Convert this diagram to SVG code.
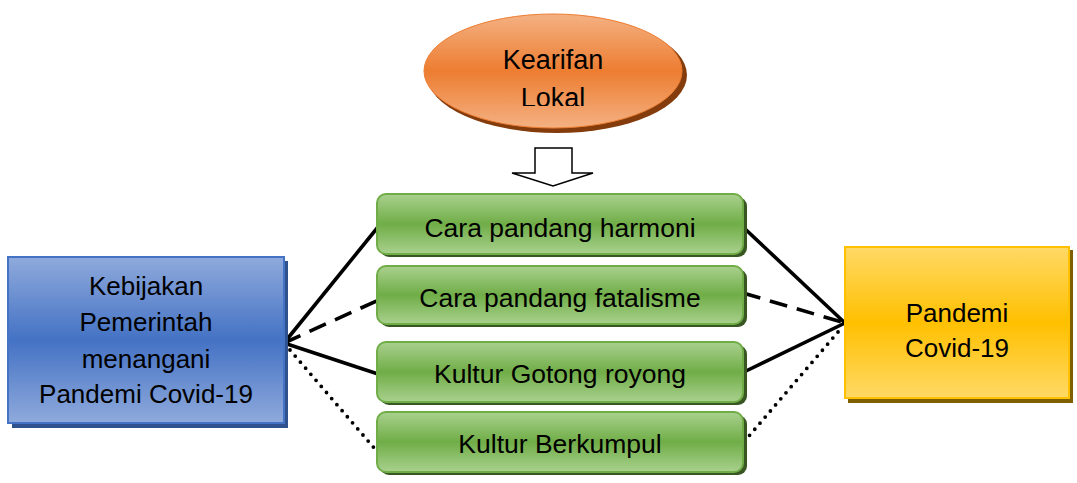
<svg xmlns="http://www.w3.org/2000/svg" width="1077" height="483" viewBox="0 0 1077 483">
<defs>
<linearGradient id="gGreen" x1="0" y1="0" x2="0" y2="1">
<stop offset="0" stop-color="#a9d18e"/><stop offset="0.5" stop-color="#70ad47"/><stop offset="1" stop-color="#a9d18e"/>
</linearGradient>
<linearGradient id="gBlue" x1="0" y1="0" x2="0" y2="1">
<stop offset="0" stop-color="#8faadc"/><stop offset="0.5" stop-color="#4472c4"/><stop offset="1" stop-color="#8faadc"/>
</linearGradient>
<linearGradient id="gGold" x1="0" y1="0" x2="0" y2="1">
<stop offset="0" stop-color="#ffd966"/><stop offset="0.5" stop-color="#ffc000"/><stop offset="1" stop-color="#ffd966"/>
</linearGradient>
<linearGradient id="gOrange" x1="0" y1="0" x2="0" y2="1">
<stop offset="0" stop-color="#f4b183"/><stop offset="0.5" stop-color="#ed7d31"/><stop offset="1" stop-color="#f4b183"/>
</linearGradient>
<clipPath id="ellClip"><rect x="420" y="0" width="270" height="106"/></clipPath>
<style>
text{font-family:"Liberation Sans",Arial,sans-serif;fill:#000;text-anchor:middle}
.g{fill:url(#gGreen);stroke:#70ad47;stroke-width:2}
.gs{fill:#385723}
.c{stroke:#000;stroke-width:3.6;fill:none}
.dash{stroke-dasharray:18 10}
.dot{stroke-dasharray:0 8;stroke-linecap:round;stroke-width:3.8}
</style>
</defs>
<g id="connectors">
<line class="c" x1="284" y1="343" x2="378" y2="227"/>
<line class="c dash" x1="284" y1="343" x2="383" y2="298"/>
<line class="c" x1="284" y1="343" x2="378" y2="374"/>
<line class="c dot" x1="290" y1="350" x2="375" y2="449"/>
<line class="c" x1="743" y1="227" x2="845" y2="323"/>
<line class="c dash" x1="743" y1="293" x2="845" y2="323"/>
<line class="c" x1="744" y1="372" x2="845" y2="323"/>
<line class="c dot" x1="838" y1="332" x2="743" y2="443"/>
</g>
<g id="kearifan">
<ellipse cx="557" cy="75" rx="130" ry="58" fill="#843c0c"/>
<ellipse cx="553" cy="71" rx="129" ry="57" fill="url(#gOrange)" stroke="#ed7d31" stroke-width="1"/>
<g clip-path="url(#ellClip)">
<text x="553" y="69" font-size="27">Kearifan</text>
<text x="553" y="107" font-size="27">Lokal</text>
</g>
</g>
<g id="arrow">
<path d="M535,148 H572 V173 H593 L553,186 L512,173 H535 Z" fill="#fff" stroke="#000" stroke-width="1.5" stroke-linejoin="miter"/>
</g>
<g id="harmoni">
<rect class="gs" x="380" y="197" width="367" height="60" rx="9"/>
<rect class="g" x="377" y="194" width="366" height="60" rx="9"/>
<text x="560" y="237" font-size="26.5">Cara pandang harmoni</text>
</g>
<g id="fatalisme">
<rect class="gs" x="380" y="269" width="367" height="58" rx="9"/>
<rect class="g" x="377" y="266" width="366" height="58" rx="9"/>
<text x="560" y="307" font-size="26.5">Cara pandang fatalisme</text>
</g>
<g id="gotong">
<rect class="gs" x="380" y="345" width="367" height="60" rx="9"/>
<rect class="g" x="377" y="342" width="366" height="60" rx="9"/>
<text x="560" y="383" font-size="26.5">Kultur Gotong royong</text>
</g>
<g id="berkumpul">
<rect class="gs" x="380" y="415" width="367" height="60" rx="9"/>
<rect class="g" x="377" y="412" width="366" height="60" rx="9"/>
<text x="560" y="453" font-size="26.5">Kultur Berkumpul</text>
</g>
<g id="kebijakan">
<rect x="12" y="261" width="276" height="167" fill="#2f528f"/>
<rect x="8" y="257" width="276" height="166" fill="url(#gBlue)" stroke="#4472c4" stroke-width="2"/>
<text x="146" y="295" font-size="26">Kebijakan</text>
<text x="146" y="331" font-size="26">Pemerintah</text>
<text x="146" y="368" font-size="26">menangani</text>
<text x="146" y="403" font-size="26">Pandemi Covid-19</text>
</g>
<g id="pandemi">
<rect x="848" y="250" width="225" height="153" fill="#7f6000"/>
<rect x="845" y="247" width="224" height="151" fill="url(#gGold)" stroke="#ffc000" stroke-width="2"/>
<text x="957" y="322" font-size="26">Pandemi</text>
<text x="957" y="357" font-size="26">Covid-19</text>
</g>
</svg>
